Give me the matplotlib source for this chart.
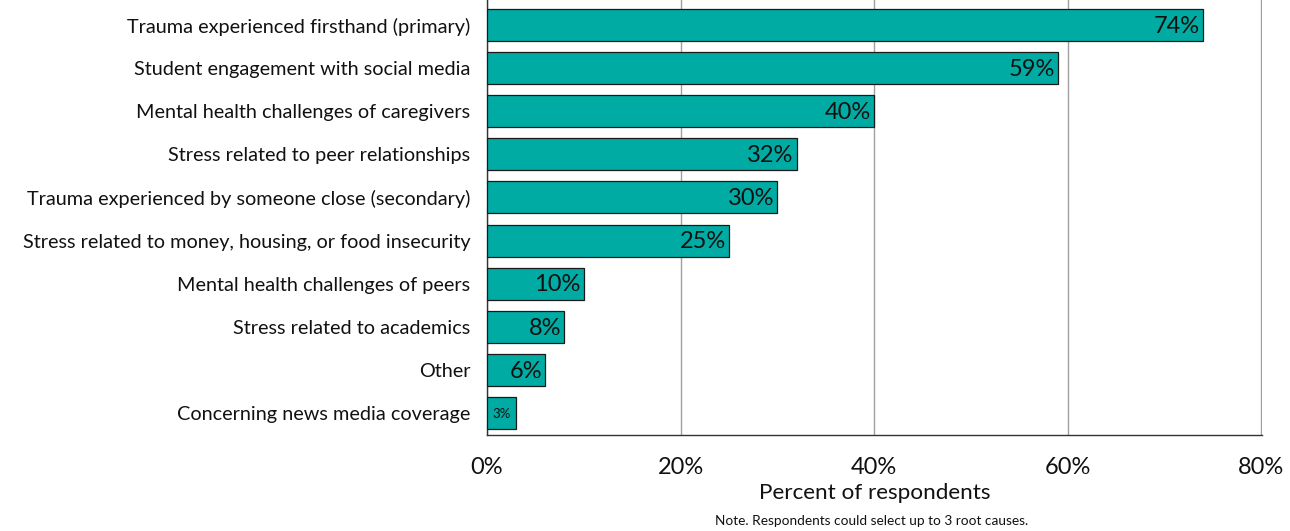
import matplotlib
matplotlib.use("Agg")
import matplotlib.pyplot as plt

categories = [
    "Trauma experienced firsthand (primary)",
    "Student engagement with social media",
    "Mental health challenges of caregivers",
    "Stress related to peer relationships",
    "Trauma experienced by someone close (secondary)",
    "Stress related to money, housing, or food insecurity",
    "Mental health challenges of peers",
    "Stress related to academics",
    "Other",
    "Concerning news media coverage",
]
values = [74, 59, 40, 32, 30, 25, 10, 8, 6, 3]
xticks = [0, 20, 40, 60, 80]
xtick_labels = ["0%", "20%", "40%", "60%", "80%"]

plt.rcParams["font.family"] = ["Lato", "DejaVu Sans"]

fig = plt.figure(figsize=(12.9, 5.31), dpi=100)
ax = fig.add_axes([0.3775, 0.1808, 0.6008, 0.8192])

ypos = list(range(len(categories)))
ax.barh(ypos, values, height=0.74, color="#00ABA3", edgecolor="#1a1a1a",
        linewidth=0.9, zorder=3)

for y, v in zip(ypos, values):
    if v >= 5:
        ax.text(v - 0.3, y + 0.03, f"{v}%", ha="right", va="center",
                fontsize=17, color="#111111", zorder=4)
    else:
        ax.text(v / 2, y + 0.03, f"{v}%", ha="center", va="center",
                fontsize=9.5, color="#111111", zorder=4)

ax.set_xlim(0, 80.08)
ax.set_ylim(9.51, -0.58)
ax.set_yticks(ypos)
ax.set_yticklabels(categories, fontsize=14.3, color="#111111")
ax.set_xticks(xticks)
ax.set_xticklabels(xtick_labels, fontsize=17, color="#111111")
ax.tick_params(axis="y", length=0, pad=12)
ax.tick_params(axis="x", length=0, pad=16)

ax.grid(axis="x", color="#a0a0a0", linewidth=1.0, zorder=0)
for s in ["top", "right"]:
    ax.spines[s].set_visible(False)
for s in ["left", "bottom"]:
    ax.spines[s].set_color("#333333")
    ax.spines[s].set_linewidth(1.0)

fig.text(0.678, 0.071, "Percent of respondents", ha="center", va="center",
         fontsize=16.2, color="#111111")
fig.text(0.676, 0.019, "Note. Respondents could select up to 3 root causes.",
         ha="center", va="center", fontsize=9.8, color="#111111")

fig.savefig("out.png", dpi=100)
